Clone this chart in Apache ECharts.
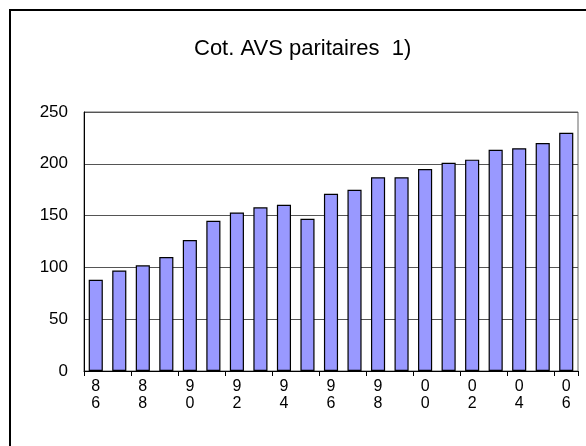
<!DOCTYPE html>
<html><head><meta charset="utf-8">
<script src="https://cdn.jsdelivr.net/npm/echarts@6/dist/echarts.min.js"></script>
<style>html,body{margin:0;padding:0;background:#fff}#c{width:586px;height:446px}</style>
</head><body><div id="c"></div>
<script>
const years = ['86','87','88','89','90','91','92','93','94','95','96','97','98','99','00','01','02','03','04','05','06'];
const values = [88,97,102,110,126.5,145,153,158,160.5,147,171,175,187,187,195,201,204,213.5,215,220,230];
const yTicks = [0,50,100,150,200,250];
const title = 'Cot. AVS paritaires  1)';

const chart = echarts.init(document.getElementById('c'));
chart.setOption({
  animation:false,
  backgroundColor:'#fff',
  title:{text:title,left:189,top:33,textStyle:{fontFamily:'Liberation Sans',fontWeight:'normal',fontSize:22,color:'#000'}},
  grid:{left:84,right:8,top:112,bottom:75,show:true,borderColor:'#666',borderWidth:1,backgroundColor:'transparent'},
  graphic:[{type:'rect',shape:{x:10,y:10,width:620,height:480},style:{fill:'none',stroke:'#000',lineWidth:2},z:100}],
  xAxis:{type:'category',data:years,
    axisLine:{lineStyle:{color:'#000',width:1}},
    axisTick:{show:true,alignWithLabel:false,length:5,lineStyle:{color:'#000'}},
    axisLabel:{interval:1,margin:7,fontFamily:'Liberation Sans',fontSize:16,color:'#000',lineHeight:17,
      formatter:v=>v.split('').join('\n')}},
  yAxis:{type:'value',min:yTicks[0],max:yTicks[yTicks.length-1],interval:50,
    axisLine:{show:true,lineStyle:{color:'#000',width:1}},
    axisTick:{show:false},
    splitLine:{lineStyle:{color:'#555',width:1}},
    axisLabel:{margin:16,fontFamily:'Liberation Sans',fontSize:17,color:'#000'}},
  series:[{type:'bar',data:values,barCategoryGap:'40%',
    itemStyle:{color:'#9999FF',borderColor:'#000',borderWidth:1.2}}]
});
</script></body></html>
